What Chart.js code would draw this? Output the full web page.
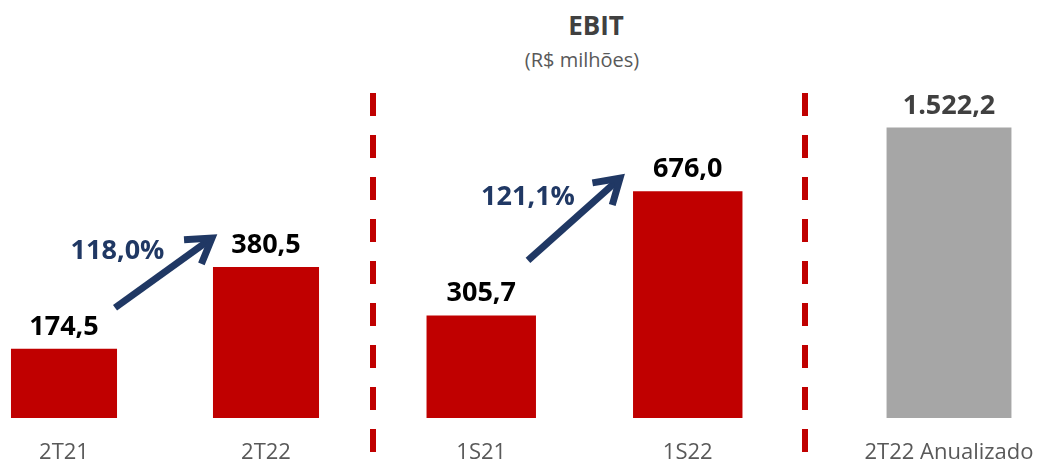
<!DOCTYPE html>
<html>
<head>
<meta charset="utf-8">
<script src="https://cdn.jsdelivr.net/npm/chart.js@4"></script>
<style>
  body { margin: 0; width: 1040px; height: 463px; overflow: hidden; position: relative; background: #fff; font-family: "Open Sans", sans-serif; }
  canvas { position: absolute; top: 0; }
  .title { position: absolute; left: 596px; top: 12px; transform: translateX(-50%); font-size: 26px; line-height: 1; font-weight: bold; color: #404040; white-space: nowrap; }
  .subtitle { position: absolute; left: 582px; top: 50px; transform: translateX(-50%); font-size: 20px; line-height: 1; color: #595959; white-space: nowrap; }
  .divider { position: absolute; top: 93px; width: 6px; height: 360px; background: repeating-linear-gradient(to bottom, #c00000 0 23px, transparent 23px 42px); }
</style>
</head>
<body>
<div class="title">EBIT</div>
<div class="subtitle">(R$ milhões)</div>
<div class="divider" style="left:370px"></div>
<div class="divider" style="left:802px"></div>
<canvas id="chart-quarter" width="404" height="488" style="left:-37px"></canvas>
<canvas id="chart-semester" width="413" height="488" style="left:378px"></canvas>
<canvas id="chart-annual" width="230" height="488" style="left:834px"></canvas>
<script>
const quarterLabels = ["2T21", "2T22"];
const quarterEbit = [174.5, 380.5];
const semesterLabels = ["1S21", "1S22"];
const semesterEbit = [305.7, 676.0];
const annualLabels = ["2T22 Anualizado"];
const annualEbit = [1522.2];
const growthPct = [118.0, 121.1];

const NAVY = "#203864";

// 1522.2 -> "1.522,2"
const fmtBR = (v) => {
  const [i, d] = v.toFixed(1).split(".");
  return i.replace(/\B(?=(\d{3})+(?!\d))/g, ".") + "," + d;
};

const barLabels = {
  id: "barLabels",
  afterDatasetsDraw(chart, args, opts) {
    const ctx = chart.ctx;
    const values = chart.data.datasets[0].data;
    ctx.save();
    ctx.font = 'bold 27px "Open Sans"';
    ctx.fillStyle = opts.color;
    ctx.textAlign = "center";
    ctx.textBaseline = "alphabetic";
    chart.getDatasetMeta(0).data.forEach((bar, i) => {
      ctx.fillText(fmtBR(values[i]), bar.x, bar.y - 14);
    });
    ctx.restore();
  },
};

const growthArrow = {
  id: "growthArrow",
  afterDatasetsDraw(chart, args, opts) {
    if (opts.pct == null) return;
    const ctx = chart.ctx;
    const [b0, b1] = chart.getDatasetMeta(0).data;
    const x0 = b0.x + b0.width / 2 + opts.tail[0];
    const y0 = b0.y + opts.tail[1];
    const x1 = b1.x - b1.width / 2 + opts.tip[0];
    const y1 = b1.y + opts.tip[1];
    const ang = Math.atan2(y1 - y0, x1 - x0);
    const head = 28, spread = 0.56;
    ctx.save();
    ctx.strokeStyle = NAVY;
    ctx.lineWidth = 7;
    ctx.lineCap = "butt";
    ctx.lineJoin = "miter";
    ctx.beginPath();
    ctx.moveTo(x0, y0);
    ctx.lineTo(x1 - 4 * Math.cos(ang), y1 - 4 * Math.sin(ang));
    ctx.stroke();
    ctx.beginPath();
    ctx.moveTo(x1 - head * Math.cos(ang - spread), y1 - head * Math.sin(ang - spread));
    ctx.lineTo(x1, y1);
    ctx.lineTo(x1 - head * Math.cos(ang + spread), y1 - head * Math.sin(ang + spread));
    ctx.stroke();
    ctx.font = 'bold 27px "Open Sans"';
    ctx.fillStyle = NAVY;
    ctx.textAlign = "center";
    ctx.textBaseline = "alphabetic";
    ctx.fillText(fmtBR(opts.pct) + "%", (x0 + x1) / 2 - 46, (y0 + y1) / 2 - 14);
    ctx.restore();
  },
};

function makeChart(id, labels, values, color, yMax, barPct, labelColor, arrow) {
  return new Chart(document.getElementById(id), {
    type: "bar",
    data: {
      labels: labels,
      datasets: [
        {
          data: values,
          backgroundColor: color,
          borderWidth: 0,
          categoryPercentage: 1,
          barPercentage: barPct,
        },
      ],
    },
    options: {
      responsive: false,
      animation: false,
      layout: { padding: { top: 60, bottom: 0, left: 0, right: 0 } },
      scales: {
        y: { display: false, min: 0, max: yMax },
        x: {
          grid: { display: false, drawTicks: false },
          border: { display: false },
          ticks: {
            color: "#595959",
            padding: 24,
            maxRotation: 0,
            autoSkip: false,
            font: { family: "Open Sans", size: 22, lineHeight: 1 },
          },
        },
      },
      plugins: {
        legend: { display: false },
        tooltip: { enabled: false },
        barLabels: { color: labelColor },
        growthArrow: arrow || {},
      },
    },
    plugins: [barLabels, growthArrow],
  });
}

makeChart("chart-quarter", quarterLabels, quarterEbit, "#c00000", 902, 0.525, "#000000",
  { pct: growthPct[0], tail: [-2, -41], tip: [-1, -29] });
makeChart("chart-semester", semesterLabels, semesterEbit, "#c00000", 1067, 0.53, "#000000",
  { pct: growthPct[1], tail: [-8, -55], tip: [-13, -13] });
makeChart("chart-annual", annualLabels, annualEbit, "#a6a6a6", 1876, 0.543, "#404040");
</script>
</body>
</html>
